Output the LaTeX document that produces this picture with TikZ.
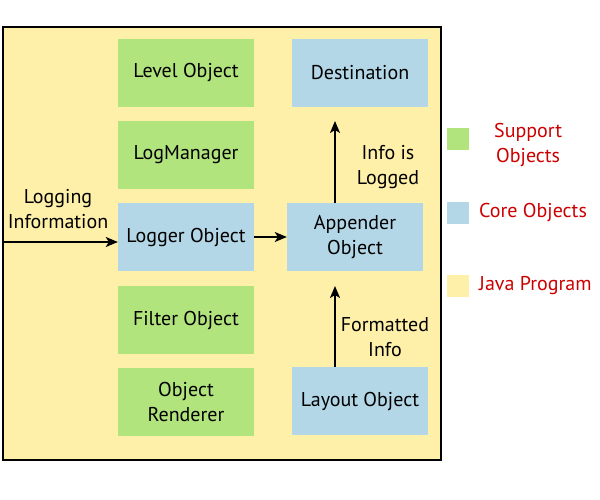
\documentclass[tikz,border=0pt]{standalone}
\usepackage{fontspec}
\setmainfont{PT Sans}
\usepackage{tikz}
\usetikzlibrary{arrows.meta,positioning}
\definecolor{supportgreen}{HTML}{B2E47E}
\definecolor{coreblue}{HTML}{B4D7E7}
\definecolor{javayellow}{HTML}{FEF0A9}
\definecolor{legendred}{HTML}{CC0000}
\tikzset{
  >={Stealth[length=12pt,width=10pt,inset=3pt]},
  support/.style={rectangle, fill=supportgreen, minimum width=136pt, minimum height=68pt,
                  text centered, align=center, inner sep=0pt},
  core/.style={rectangle, fill=coreblue, minimum width=136pt, minimum height=68pt,
               text centered, align=center, inner sep=0pt},
  flow/.style={draw, line width=1.6pt, ->},
  note/.style={align=center, inner sep=0pt},
  legendbox/.style={rectangle, minimum size=22pt, inner sep=0pt},
  legendtext/.style={text=legendred, align=center, anchor=west, inner sep=0pt}
}

\begin{document}
\begin{tikzpicture}[x=1pt,y=-1pt,font=\fontsize{20}{25}\selectfont]
    \useasboundingbox (0,0) rectangle (600,500);
    % Java program frame
    \draw [fill=javayellow, line width=1.6pt] (3,27) rectangle (441,460);
    \coordinate (entry) at (3,242);
    % Objects
    \node (level)    [support] at (186,73)  {Level Object};
    \node (manager)  [support] at (186,155) {LogManager};
    \node (logger)   [core]    at (186,237) {Logger Object};
    \node (filter)   [support] at (186,320) {Filter Object};
    \node (renderer) [support] at (186,402) {Object\\Renderer};
    \node (dest)     [core]    at (360,73)  {Destination};
    \node (appender) [core]    at (355,237) {Appender\\Object};
    \node (layout)   [core]    at (360,401) {Layout Object};
    % Connectors
    \draw [flow] (entry) -- (entry -| logger.west);
    \draw [flow] (logger.east |- 0,237) -- (appender.west |- 0,237);
    \draw [flow] (appender.north -| 335,0) -- (335,121);
    \draw [flow] (layout.north -| 335,0) -- (335,286);
    \node (loginfo) [note] at (58,209) {Logging\\Information};
    \node (logged)  [note] at (388,167) {Info is\\Logged};
    \node (format)  [note] at (385,337) {Formatted\\Info};
    % Legend
    \node (keysupport) [legendbox, fill=supportgreen] at (458,139) {};
    \node (keycore)    [legendbox, fill=coreblue]     at (458,213) {};
    \node (keyjava)    [legendbox, fill=javayellow]   at (458,286) {};
    \node (txtsupport) [legendtext] at (494,145) {Support\\Objects};
    \node (txtcore)    [legendtext] at (479,213) {Core Objects};
    \node (txtjava)    [legendtext] at (479,286) {Java Program};
\end{tikzpicture}
\end{document}
